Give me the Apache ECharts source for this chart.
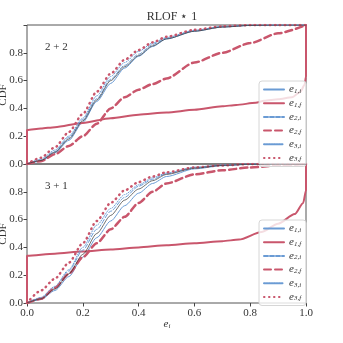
<!DOCTYPE html>
<html>
<head>
<meta charset="utf-8">
<script src="https://cdn.jsdelivr.net/npm/echarts@6/dist/echarts.min.js"></script>
<style>
  html, body { margin: 0; padding: 0; background: #fff; }
  #main { width: 343px; height: 343px; }
</style>
</head>
<body>
<div id="main"></div>
<script>
// eccentricity grid shared by most curves
var E = [0, 0.05, 0.1, 0.15, 0.2, 0.25, 0.3, 0.35, 0.4, 0.45, 0.5, 0.6, 0.7, 0.8, 0.9, 1.0];

// panel 2+2
var fitTop = [0, 0.025, 0.085, 0.18, 0.31, 0.46, 0.6, 0.7, 0.78, 0.85, 0.9, 0.955, 0.985, 0.997, 1, 1];
var e1iTop = [0, 0.02, 0.08, 0.17, 0.30, 0.45, 0.58, 0.69, 0.775, 0.845, 0.9, 0.955, 0.985, 0.997, 1, 1];
var e2iTop = [0, 0.03, 0.09, 0.19, 0.32, 0.47, 0.61, 0.71, 0.79, 0.86, 0.905, 0.96, 0.988, 0.998, 1, 1];
var e3iTop = [0, 0.035, 0.1, 0.2, 0.33, 0.49, 0.63, 0.73, 0.81, 0.87, 0.91, 0.962, 0.99, 0.999, 1, 1];
var e3fTop = [0, 0.045, 0.12, 0.23, 0.36, 0.52, 0.65, 0.75, 0.82, 0.875, 0.915, 0.965, 0.99, 1, 1, 1];
var e2fTop = [0, 0.02, 0.07, 0.13, 0.2, 0.29, 0.4, 0.48, 0.535, 0.575, 0.615, 0.73, 0.8, 0.87, 0.94, 1];
var e1fTopX = [0, 0, 0.05, 0.1, 0.2, 0.3, 0.4, 0.5, 0.6, 0.7, 0.75, 0.82, 0.85, 0.9, 0.95, 0.98, 0.995, 1, 1];
var e1fTopY = [0, 0.245, 0.255, 0.265, 0.295, 0.33, 0.355, 0.37, 0.39, 0.415, 0.425, 0.44, 0.455, 0.465, 0.48, 0.52, 0.57, 0.63, 1];

// panel 3+1
var fitBot = [0, 0.03, 0.1, 0.21, 0.35, 0.5, 0.63, 0.74, 0.82, 0.88, 0.925, 0.97, 0.99, 0.998, 1, 1];
var e1iBot = [0, 0.025, 0.09, 0.19, 0.33, 0.47, 0.59, 0.7, 0.79, 0.86, 0.91, 0.965, 0.988, 0.998, 1, 1];
var e2iBot = [0, 0.035, 0.11, 0.23, 0.38, 0.53, 0.66, 0.76, 0.84, 0.89, 0.93, 0.975, 0.992, 1, 1, 1];
var e3iBot = [0, 0.04, 0.12, 0.24, 0.4, 0.56, 0.68, 0.78, 0.85, 0.9, 0.935, 0.977, 0.993, 1, 1, 1];
var e3fBot = [0, 0.09, 0.175, 0.29, 0.43, 0.59, 0.72, 0.81, 0.87, 0.91, 0.94, 0.975, 0.99, 1, 1, 1];
var e2fBot = [0, 0.03, 0.11, 0.21, 0.33, 0.43, 0.53, 0.62, 0.72, 0.8, 0.86, 0.925, 0.955, 0.975, 0.99, 1];
var e1fBotX = [0, 0, 0.1, 0.2, 0.3, 0.4, 0.5, 0.6, 0.7, 0.76, 0.84, 0.9, 0.96, 0.99, 1, 1];
var e1fBotY = [0, 0.34, 0.355, 0.37, 0.385, 0.4, 0.415, 0.43, 0.445, 0.456, 0.51, 0.57, 0.64, 0.72, 0.81, 1];

var names = ['e1,i', 'e1,f', 'e2,i', 'e2,f', 'e3,i', 'e3,f'];

var BLUE = '#6a9bd4';
var RED = '#c9566c';
var FONT = 'Liberation Serif';

function zip(xs, ys) {
    return xs.map(function (x, i) { return [x, ys[i]]; });
}

function line(name, idx, data, color, width, type) {
    return {
        name: name,
        type: 'line',
        xAxisIndex: idx,
        yAxisIndex: idx,
        data: data,
        symbol: 'none',
        smooth: 0.25,
        smoothMonotone: 'x',
        silent: true,
        z: name === '' ? 5 : 3,
        lineStyle: { color: color, width: width, type: type, cap: 'round' },
        itemStyle: { color: color }
    };
}

function panel(idx, fit, e1i, e1fX, e1fY, e2i, e2f, e3i, e3f) {
    return [
        line('', idx, zip(E, fit), '#333', 0.7, 'solid'),
        line('e1,i', idx, zip(E, e1i), BLUE, 1, 'solid'),
        line('e1,f', idx, zip(e1fX, e1fY), RED, 2, 'solid'),
        line('e2,i', idx, zip(E, e2i), BLUE, 1, [4, 2]),
        line('e2,f', idx, zip(E, e2f), RED, 2.5, [7, 4]),
        line('e3,i', idx, zip(E, e3i), BLUE, 1, [1, 1.5]),
        line('e3,f', idx, zip(E, e3f), RED, 2.5, [0.5, 4.5])
    ];
}

function legendAt(top) {
    return {
        data: names,
        orient: 'vertical',
        left: 259,
        top: top,
        itemWidth: 20,
        itemHeight: 9,
        itemGap: 2.7,
        padding: [3, 5, 3, 4],
        borderColor: '#d6d6d6',
        borderWidth: 1,
        borderRadius: 3,
        backgroundColor: 'rgba(255,255,255,0.8)',
        selectedMode: false,
        itemStyle: { opacity: 0 },
        formatter: function (n) {
            var p = n.split('e');
            return '{i|e}{s|' + p[1] + '}';
        },
        textStyle: {
            color: '#333',
            lineHeight: 10,
            rich: {
                i: { fontFamily: FONT, fontStyle: 'italic', fontSize: 11, color: '#333', lineHeight: 10 },
                s: { fontFamily: FONT, fontStyle: 'italic', fontSize: 7, color: '#333', lineHeight: 7, padding: [3, 0, 0, 0] }
            }
        }
    };
}

function xAxis(idx, showLabels) {
    return {
        type: 'value',
        gridIndex: idx,
        min: 0,
        max: 1,
        interval: 0.2,
        axisLine: { show: false },
        axisTick: { show: showLabels, length: 3.5, lineStyle: { color: '#444' } },
        splitLine: { show: false },
        axisLabel: {
            show: showLabels,
            fontFamily: FONT,
            fontSize: 11,
            color: '#333',
            margin: 5,
            formatter: function (v) { return v.toFixed(1); }
        }
    };
}

function yAxis(idx) {
    return {
        type: 'value',
        gridIndex: idx,
        min: 0,
        max: 1,
        interval: 0.2,
        axisLine: { show: false },
        axisTick: { show: true, length: 3.5, lineStyle: { color: '#444' } },
        splitLine: { show: false },
        axisLabel: {
            fontFamily: FONT,
            fontSize: 11,
            color: '#333',
            margin: 4,
            formatter: function (v) { return v >= 1 ? '' : v.toFixed(1); }
        }
    };
}

function cdfLabel(y) {
    return { type: 'text', x: 3, y: y, rotation: Math.PI / 2, silent: true,
             style: { text: 'CDF', font: '11px "Liberation Serif"', fill: '#333', align: 'center', verticalAlign: 'middle' } };
}

var gridBase = { left: 27, width: 279, height: 139, show: true, borderColor: '#555', borderWidth: 1,
                 backgroundColor: 'transparent', containLabel: false, outerBoundsMode: 'none' };

var chart = echarts.init(document.getElementById('main'), null, { renderer: 'canvas' });
chart.setOption({
    animation: false,
    backgroundColor: '#fff',
    title: [
        { text: 'RLOF \u22c6 1', left: 167, top: 6, textAlign: 'center',
          textStyle: { fontFamily: FONT, fontWeight: 'normal', fontSize: 12, color: '#333' } },
        { text: '2 + 2', left: 40, top: 37,
          textStyle: { fontFamily: FONT, fontWeight: 'normal', fontSize: 11, color: '#333' } },
        { text: '3 + 1', left: 40, top: 176,
          textStyle: { fontFamily: FONT, fontWeight: 'normal', fontSize: 11, color: '#333' } }
    ],
    grid: [
        Object.assign({ top: 25 }, gridBase),
        Object.assign({ top: 164 }, gridBase)
    ],
    xAxis: [xAxis(0, false), xAxis(1, true)],
    yAxis: [yAxis(0), yAxis(1)],
    legend: [legendAt(81), legendAt(220)],
    graphic: [
        cdfLabel(95),
        cdfLabel(234),
        { type: 'text', x: 167, y: 324, silent: true,
          style: { text: '{i|e}{s|i}', align: 'center', verticalAlign: 'middle',
                   rich: {
                       i: { fontFamily: FONT, fontStyle: 'italic', fontSize: 11, fill: '#333' },
                       s: { fontFamily: FONT, fontStyle: 'italic', fontSize: 7, fill: '#333', padding: [5, 0, 0, 0] }
                   } } }
    ],
    series: panel(0, fitTop, e1iTop, e1fTopX, e1fTopY, e2iTop, e2fTop, e3iTop, e3fTop)
        .concat(panel(1, fitBot, e1iBot, e1fBotX, e1fBotY, e2iBot, e2fBot, e3iBot, e3fBot))
});
</script>
</body>
</html>
